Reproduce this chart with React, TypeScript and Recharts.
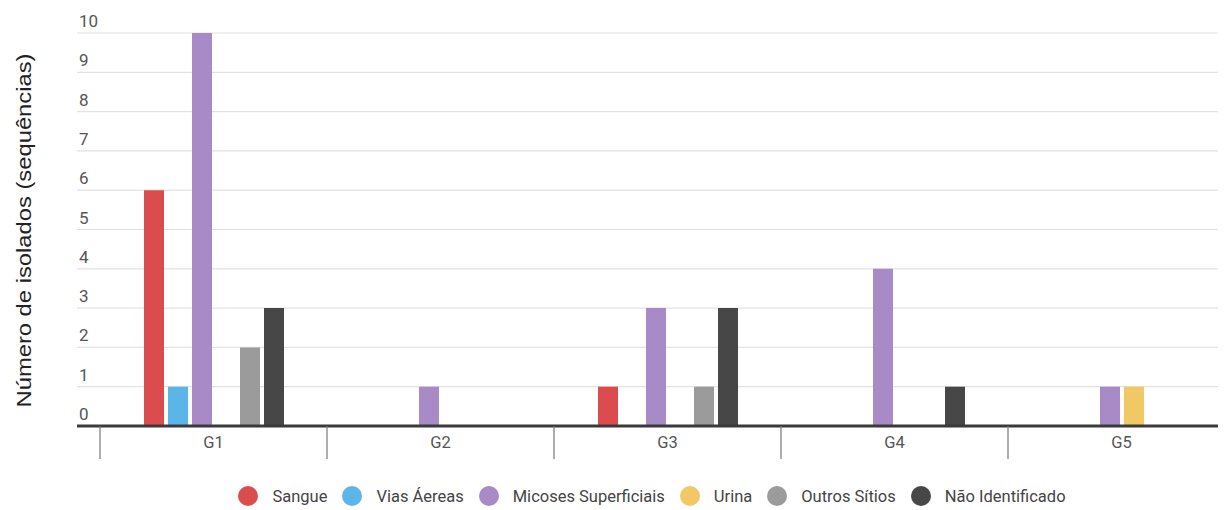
import React from "react";
import { BarChart, Bar, XAxis, YAxis, CartesianGrid, Legend } from "recharts";

const groups = ["G1", "G2", "G3", "G4", "G5"];
const sangue = [6, 0, 1, 0, 0];
const viasAereas = [1, 0, 0, 0, 0];
const micoses = [10, 1, 3, 4, 1];
const urina = [0, 0, 0, 0, 1];
const outros = [2, 0, 1, 0, 0];
const naoIdent = [3, 0, 3, 1, 0];
const yTicks = [0, 1, 2, 3, 4, 5, 6, 7, 8, 9, 10];

const series = [
  { key: "sangue", name: "Sangue", color: "#db4c4f" },
  { key: "vias", name: "Vias Áereas", color: "#5bb5e6" },
  { key: "micoses", name: "Micoses Superficiais", color: "#a88bc6" },
  { key: "urina", name: "Urina", color: "#f0c865" },
  { key: "outros", name: "Outros Sítios", color: "#9b9b9b" },
  { key: "nao", name: "Não Identificado", color: "#474747" },
];

const data = groups.map((g, i) => ({
  group: g,
  sangue: sangue[i],
  vias: viasAereas[i],
  micoses: micoses[i],
  urina: urina[i],
  outros: outros[i],
  nao: naoIdent[i],
}));

const FONT = "Roboto, 'Noto Sans', sans-serif";

// y labels sit inside the plot, just above each gridline
const YTick = (props: any) => {
  const { y, payload } = props;
  return (
    <text x={71} y={y - 6} fill="#555" fontSize={17} fontFamily={FONT} textAnchor="start">
      {payload.value}
    </text>
  );
};

// category label plus a separator line at the left edge of each band
const XTick = (props: any) => {
  const { x, y, payload } = props;
  const half = payload.offset || 113.5;
  return (
    <g>
      <line x1={x - half} x2={x - half} y1={y - 8} y2={y + 25} stroke="#777" strokeWidth={1.2} />
      <text x={x} y={y + 14} fill="#555" fontSize={16.5} fontFamily={FONT} textAnchor="middle">
        {payload.value}
      </text>
    </g>
  );
};

const YTitle = (p: any) => {
  const vb = p.viewBox || {};
  const cy = (vb.y ?? 25) + (vb.height ?? 392) / 2 + 1;
  return (
    <text
      x={15}
      y={cy}
      transform={`rotate(-90, 15, ${cy})`}
      textAnchor="middle"
      dominantBaseline="central"
      fontFamily="'Liberation Sans', Arial, sans-serif"
      fontSize={21}
      textLength={354}
      lengthAdjust="spacingAndGlyphs"
      fill="#222"
    >
      Número de isolados (sequências)
    </text>
  );
};

const LegendContent = () => (
  <div style={{ display: "flex", justifyContent: "center", alignItems: "center", fontFamily: FONT, fontSize: 16.5, color: "#444" }}>
    {series.map((s, i) => (
      <div key={s.key} style={{ display: "flex", alignItems: "center", marginLeft: i === 0 ? 0 : 15 }}>
        <span style={{ width: 20, height: 20, borderRadius: 10, background: s.color, display: "inline-block", marginRight: 14 }} />
        <span>{s.name}</span>
      </div>
    ))}
  </div>
);

export default function App() {
  return (
    <div style={{ width: 1218, height: 502, overflow: "hidden", position: "relative" }}>
      <BarChart
        width={1250}
        height={502}
        data={data}
        margin={{ top: 25, right: 23, bottom: 24, left: 68 }}
        barSize={20}
        barGap={4}
      >
        <CartesianGrid stroke="#e2e2e2" strokeWidth={1.2} vertical={false} />
        <XAxis
          dataKey="group"
          padding={{ left: 23, right: 0 }}
          axisLine={{ stroke: "#3a3a3a", strokeWidth: 3 }}
          tickLine={false}
          tick={<XTick />}
          height={40}
          interval={0}
        />
        <YAxis
          domain={[0, 10]}
          ticks={yTicks}
          interval={0}
          width={1}
          axisLine={false}
          tickLine={false}
          tick={<YTick />}
          label={<YTitle />}
        />
        <Legend content={<LegendContent />} wrapperStyle={{ left: 0, width: 1288, bottom: 4 }} />
        {series.map((s) => (
          <Bar key={s.key} dataKey={s.key} name={s.name} fill={s.color} isAnimationActive={false} />
        ))}
      </BarChart>
    </div>
  );
}
